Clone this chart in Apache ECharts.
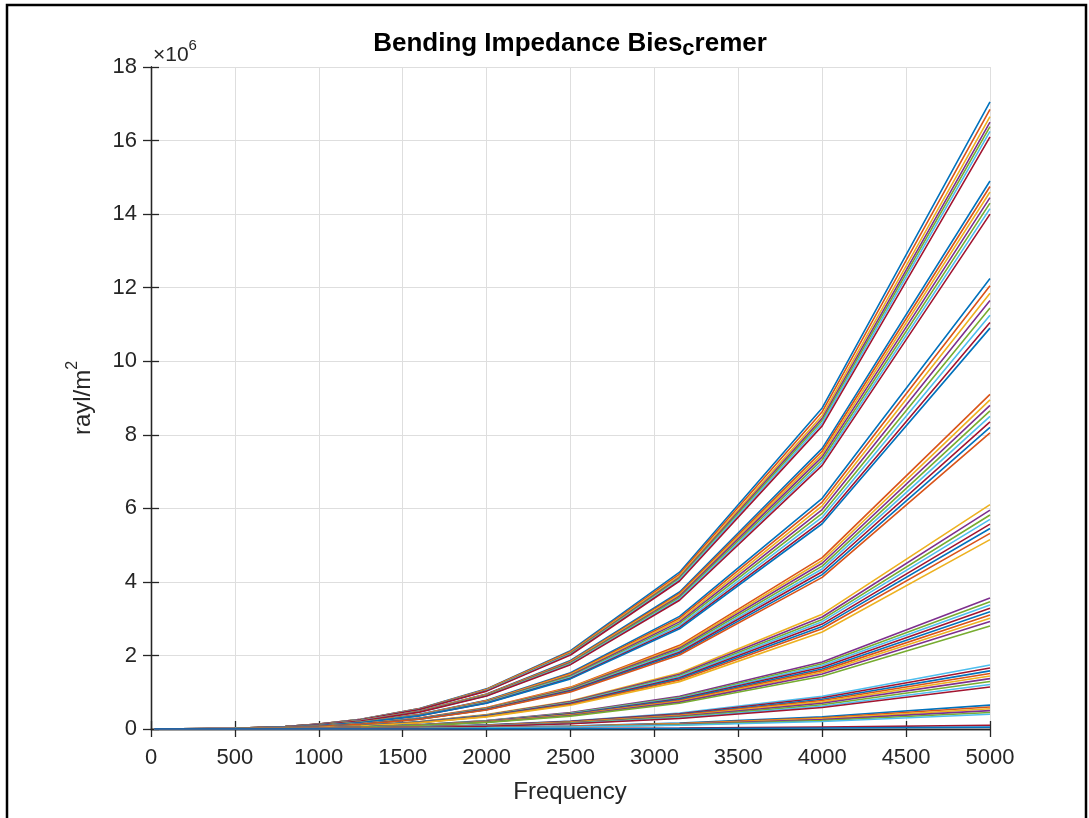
<!DOCTYPE html>
<html>
<head>
<meta charset="utf-8">
<script src="https://cdn.jsdelivr.net/npm/echarts@6/dist/echarts.min.js"></script>
<style>
  html, body { margin: 0; padding: 0; background: #ffffff; }
  #chart { width: 1089px; height: 818px; }
</style>
</head>
<body>
<div id="chart"></div>
<script>
// Third-octave band centre frequencies (Hz)
const frequencies = [20, 500, 800, 1000, 1250, 1600, 2000, 2500, 3150, 4000, 5000];

// Bending impedance, in units of 10^6 rayl/m^2, one row per curve, grouped by bundle
const bundle1 = [
  [0, 0.017, 0.070, 0.136, 0.266, 0.559, 1.091, 2.131, 4.263, 8.730, 17.05],
  [0, 0.017, 0.069, 0.135, 0.263, 0.553, 1.078, 2.106, 4.213, 8.627, 16.85],
  [0, 0.017, 0.068, 0.133, 0.260, 0.546, 1.066, 2.081, 4.163, 8.525, 16.65],
  [0, 0.017, 0.068, 0.132, 0.257, 0.541, 1.056, 2.063, 4.125, 8.448, 16.50],
  [0, 0.016, 0.067, 0.131, 0.256, 0.537, 1.048, 2.048, 4.095, 8.387, 16.38],
  [0, 0.016, 0.067, 0.130, 0.254, 0.533, 1.040, 2.031, 4.063, 8.320, 16.25],
  [0, 0.016, 0.066, 0.129, 0.251, 0.528, 1.030, 2.013, 4.025, 8.243, 16.10]
];
const bundle2 = [
  [0, 0.015, 0.061, 0.119, 0.232, 0.489, 0.954, 1.863, 3.725, 7.629, 14.90],
  [0, 0.015, 0.060, 0.118, 0.230, 0.484, 0.944, 1.844, 3.688, 7.552, 14.75],
  [0, 0.015, 0.060, 0.117, 0.228, 0.479, 0.934, 1.825, 3.650, 7.475, 14.60],
  [0, 0.014, 0.059, 0.116, 0.225, 0.474, 0.925, 1.806, 3.613, 7.398, 14.45],
  [0, 0.014, 0.059, 0.114, 0.223, 0.469, 0.915, 1.788, 3.575, 7.322, 14.30],
  [0, 0.014, 0.058, 0.113, 0.221, 0.464, 0.906, 1.769, 3.538, 7.245, 14.15],
  [0, 0.014, 0.057, 0.112, 0.218, 0.459, 0.896, 1.750, 3.500, 7.168, 14.00]
];
const bundle3 = [
  [0, 0.012, 0.050, 0.098, 0.191, 0.402, 0.784, 1.531, 3.063, 6.272, 12.25],
  [0, 0.012, 0.049, 0.096, 0.188, 0.395, 0.771, 1.506, 3.013, 6.170, 12.05],
  [0, 0.012, 0.049, 0.095, 0.185, 0.389, 0.758, 1.481, 2.963, 6.067, 11.85],
  [0, 0.012, 0.048, 0.093, 0.182, 0.382, 0.746, 1.456, 2.913, 5.965, 11.65],
  [0, 0.011, 0.047, 0.092, 0.179, 0.376, 0.733, 1.431, 2.863, 5.862, 11.45],
  [0, 0.011, 0.046, 0.090, 0.176, 0.369, 0.720, 1.406, 2.813, 5.760, 11.25],
  [0, 0.011, 0.045, 0.088, 0.172, 0.362, 0.707, 1.381, 2.763, 5.658, 11.05],
  [0, 0.011, 0.045, 0.087, 0.170, 0.358, 0.698, 1.363, 2.725, 5.581, 10.90]
];
const bundle4 = [
  [0, 0.009, 0.037, 0.073, 0.142, 0.298, 0.582, 1.138, 2.275, 4.659, 9.10],
  [0, 0.009, 0.037, 0.072, 0.140, 0.294, 0.573, 1.119, 2.238, 4.582, 8.95],
  [0, 0.009, 0.036, 0.070, 0.137, 0.289, 0.563, 1.100, 2.200, 4.506, 8.80],
  [0, 0.009, 0.035, 0.069, 0.135, 0.284, 0.554, 1.081, 2.163, 4.429, 8.65],
  [0, 0.009, 0.035, 0.068, 0.133, 0.279, 0.544, 1.063, 2.125, 4.352, 8.50],
  [0, 0.008, 0.034, 0.067, 0.130, 0.274, 0.534, 1.044, 2.088, 4.275, 8.35],
  [0, 0.008, 0.034, 0.066, 0.128, 0.269, 0.525, 1.025, 2.050, 4.198, 8.20],
  [0, 0.008, 0.033, 0.064, 0.126, 0.264, 0.515, 1.006, 2.013, 4.122, 8.05]
];
const bundle5 = [
  [0, 0.006, 0.025, 0.049, 0.095, 0.200, 0.390, 0.763, 1.525, 3.123, 6.10],
  [0, 0.006, 0.024, 0.048, 0.093, 0.195, 0.381, 0.744, 1.488, 3.046, 5.95],
  [0, 0.006, 0.024, 0.047, 0.091, 0.191, 0.372, 0.728, 1.455, 2.980, 5.82],
  [0, 0.006, 0.023, 0.046, 0.089, 0.187, 0.365, 0.713, 1.425, 2.918, 5.70],
  [0, 0.006, 0.023, 0.045, 0.087, 0.183, 0.356, 0.696, 1.393, 2.852, 5.57],
  [0, 0.005, 0.022, 0.044, 0.085, 0.179, 0.349, 0.681, 1.363, 2.790, 5.45],
  [0, 0.005, 0.022, 0.043, 0.083, 0.174, 0.340, 0.665, 1.330, 2.724, 5.32],
  [0, 0.005, 0.021, 0.041, 0.080, 0.169, 0.330, 0.644, 1.288, 2.637, 5.15]
];
const bundle6 = [
  [0, 0.004, 0.015, 0.028, 0.056, 0.117, 0.228, 0.445, 0.890, 1.823, 3.56],
  [0, 0.003, 0.014, 0.028, 0.054, 0.113, 0.221, 0.433, 0.865, 1.772, 3.46],
  [0, 0.003, 0.014, 0.027, 0.053, 0.111, 0.216, 0.421, 0.843, 1.725, 3.37],
  [0, 0.003, 0.013, 0.026, 0.051, 0.108, 0.210, 0.410, 0.820, 1.679, 3.28],
  [0, 0.003, 0.013, 0.026, 0.050, 0.105, 0.204, 0.399, 0.798, 1.633, 3.19],
  [0, 0.003, 0.013, 0.025, 0.048, 0.102, 0.198, 0.388, 0.775, 1.587, 3.10],
  [0, 0.003, 0.012, 0.024, 0.047, 0.099, 0.193, 0.376, 0.753, 1.541, 3.01],
  [0, 0.003, 0.012, 0.023, 0.046, 0.096, 0.187, 0.365, 0.730, 1.495, 2.92],
  [0, 0.003, 0.011, 0.022, 0.044, 0.092, 0.179, 0.350, 0.700, 1.434, 2.80]
];
const bundle7 = [
  [0, 0.002, 0.007, 0.014, 0.027, 0.057, 0.111, 0.218, 0.435, 0.891, 1.74],
  [0, 0.002, 0.007, 0.013, 0.026, 0.054, 0.106, 0.208, 0.415, 0.850, 1.66],
  [0, 0.002, 0.006, 0.013, 0.025, 0.052, 0.101, 0.198, 0.395, 0.809, 1.58],
  [0, 0.002, 0.006, 0.012, 0.024, 0.050, 0.097, 0.189, 0.378, 0.773, 1.51],
  [0, 0.001, 0.006, 0.012, 0.022, 0.047, 0.092, 0.180, 0.360, 0.737, 1.44],
  [0, 0.001, 0.006, 0.011, 0.021, 0.045, 0.088, 0.171, 0.343, 0.701, 1.37],
  [0, 0.001, 0.005, 0.010, 0.020, 0.042, 0.083, 0.161, 0.323, 0.660, 1.29],
  [0, 0.001, 0.005, 0.010, 0.019, 0.040, 0.077, 0.151, 0.303, 0.620, 1.21],
  [0, 0.001, 0.005, 0.009, 0.018, 0.037, 0.073, 0.143, 0.285, 0.584, 1.14]
];
const bundle8 = [
  [0, 0.001, 0.003, 0.005, 0.010, 0.021, 0.042, 0.081, 0.163, 0.333, 0.65],
  [0, 0.001, 0.002, 0.005, 0.009, 0.020, 0.038, 0.075, 0.150, 0.307, 0.60],
  [0, 0.001, 0.002, 0.004, 0.009, 0.018, 0.035, 0.069, 0.138, 0.282, 0.55],
  [0, 0.001, 0.002, 0.004, 0.008, 0.016, 0.032, 0.063, 0.125, 0.256, 0.50],
  [0, 0.000, 0.002, 0.004, 0.007, 0.015, 0.029, 0.056, 0.113, 0.230, 0.45],
  [0, 0.000, 0.002, 0.003, 0.006, 0.013, 0.026, 0.050, 0.100, 0.205, 0.40]
];
const bundle9 = [
  [0, 0.000, 0.000, 0.001, 0.002, 0.003, 0.006, 0.013, 0.025, 0.051, 0.10],
  [0, 0.000, 0.000, 0.000, 0.001, 0.002, 0.003, 0.006, 0.013, 0.026, 0.05]
];

// MATLAB default line colour order
const colorOrder = ['#0072BD', '#D95319', '#EDB120', '#7E2F8E', '#77AC30', '#4DBEEE', '#A2142F'];

const FONT = "'Liberation Sans', Arial, Helvetica, sans-serif";
const INK = '#262626';

const bundles = [bundle1, bundle2, bundle3, bundle4, bundle5, bundle6, bundle7, bundle8, bundle9];
const series = [];
let k = 0;
bundles.forEach(function (bundle) {
  bundle.forEach(function (row) {
    series.push({
      type: 'line',
      xAxisIndex: 0,
      yAxisIndex: 0,
      showSymbol: false,
      silent: true,
      data: frequencies.map(function (f, i) { return [f, row[i]]; }),
      lineStyle: { width: 1.6, color: colorOrder[k % colorOrder.length] },
      z: 2
    });
    k++;
  });
});

const axisLineStyle = { lineStyle: { color: INK, width: 1.3 } };
const tickStyle = { show: true, inside: true, length: 8, lineStyle: { color: INK, width: 1.3 } };

const chart = echarts.init(document.getElementById('chart'), null, { renderer: 'canvas' });
chart.setOption({
  animation: false,
  backgroundColor: '#ffffff',
  grid: { left: 151, right: 99, top: 67, bottom: 89, containLabel: false },
  xAxis: [
    {
      type: 'value', min: 0, max: 5000, interval: 500, position: 'bottom',
      axisLine: axisLineStyle, axisTick: tickStyle,
      axisLabel: { color: INK, fontSize: 22, fontFamily: FONT, margin: 18,
        formatter: function (v) { return String(v); } },
      splitLine: { show: true, lineStyle: { color: '#dedede', width: 1 } }
    },
    {
      type: 'value', min: 0, max: 5000, interval: 500, position: 'top',
      axisLine: axisLineStyle, axisTick: tickStyle,
      axisLabel: { show: false }, splitLine: { show: false }
    }
  ],
  yAxis: [
    {
      type: 'value', min: 0, max: 18, interval: 2, position: 'left',
      axisLine: axisLineStyle, axisTick: tickStyle,
      axisLabel: { color: INK, fontSize: 22, fontFamily: FONT, margin: 14 },
      splitLine: { show: true, lineStyle: { color: '#dedede', width: 1 } }
    },
    {
      type: 'value', min: 0, max: 18, interval: 2, position: 'right',
      axisLine: axisLineStyle, axisTick: tickStyle,
      axisLabel: { show: false }, splitLine: { show: false }
    }
  ],
  series: series,
  graphic: [
    {
      type: 'rect', silent: true, z: 100,
      shape: { x: 7, y: 5, width: 1079, height: 830 },
      style: { fill: null, stroke: '#000000', lineWidth: 2.5 }
    },
    {
      type: 'text', silent: true, z: 100,
      x: 570, y: 44,
      style: {
        text: '{n|Bending Impedance Bies}{s|c}{n|remer}',
        align: 'center', verticalAlign: 'middle',
        rich: {
          n: { fontSize: 26, fontWeight: 'bold', fontFamily: FONT, fill: '#000000', lineHeight: 32, verticalAlign: 'middle' },
          s: { fontSize: 22, fontWeight: 'bold', fontFamily: FONT, fill: '#000000', lineHeight: 12, verticalAlign: 'bottom' }
        }
      }
    },
    {
      type: 'text', silent: true, z: 100,
      x: 153, y: 52,
      style: {
        text: '{n|\u00d710}{p|6}',
        align: 'left', verticalAlign: 'middle',
        rich: {
          n: { fontSize: 21, fontFamily: FONT, fill: INK, lineHeight: 28, verticalAlign: 'bottom' },
          p: { fontSize: 15, fontFamily: FONT, fill: INK, lineHeight: 14, verticalAlign: 'top' }
        }
      }
    },
    {
      type: 'text', silent: true, z: 100,
      x: 80, y: 398, rotation: Math.PI / 2,
      style: {
        text: '{n|rayl/m}{p|2}',
        align: 'center', verticalAlign: 'middle',
        rich: {
          n: { fontSize: 24, fontFamily: FONT, fill: INK, lineHeight: 30, verticalAlign: 'bottom' },
          p: { fontSize: 16, fontFamily: FONT, fill: INK, lineHeight: 16, verticalAlign: 'top' }
        }
      }
    },
    {
      type: 'text', silent: true, z: 100,
      x: 570, y: 792,
      style: {
        text: 'Frequency', align: 'center', verticalAlign: 'middle',
        fontSize: 24, fontFamily: FONT, fill: INK
      }
    }
  ]
});
</script>
</body>
</html>
